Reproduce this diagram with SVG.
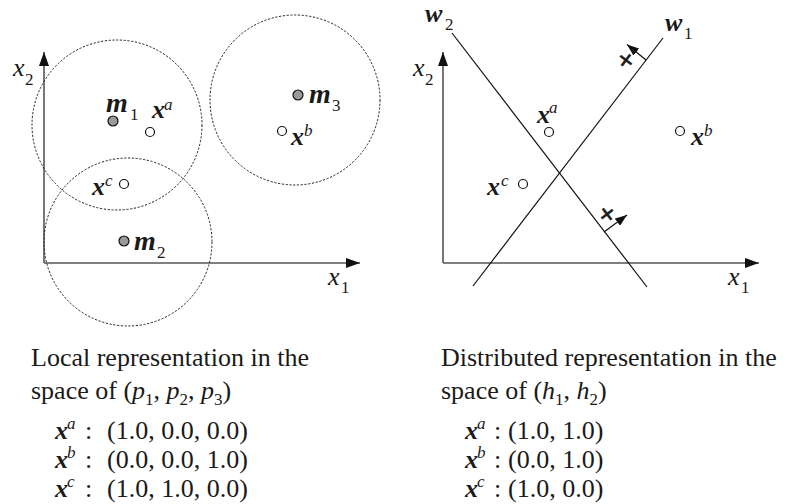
<svg xmlns="http://www.w3.org/2000/svg" width="789" height="504" viewBox="0 0 789 504">
<style>
text{font-family:"Liberation Serif","Times New Roman",serif;fill:#1a1a1a;font-size:26px}
.bi{font-weight:bold;font-style:italic}
.m{font-size:28px}
.it{font-style:italic}
.sm{font-size:17px}
.axis{stroke:#555;stroke-width:1.6;fill:none}
.dash{fill:none;stroke:#222;stroke-width:1;stroke-dasharray:2.2 1.6}
.ln{stroke:#111;stroke-width:1.2;fill:none}
.proto{fill:#999;stroke:#111;stroke-width:1.2}
.pt{fill:#fff;stroke:#111;stroke-width:1.2}
.plus{font-family:"Liberation Sans",Arial,sans-serif;font-size:28px;text-anchor:middle;stroke:#1a1a1a;stroke-width:0.5}
</style>
<defs>
<marker id="ah" markerUnits="userSpaceOnUse" markerWidth="14" markerHeight="10" refX="14" refY="5" orient="auto">
<path d="M0,0 L14,5 L0,10 z" fill="#111"/>
</marker>
<marker id="ahs" markerUnits="userSpaceOnUse" markerWidth="12" markerHeight="9" refX="12" refY="4.5" orient="auto">
<path d="M0,0 L12,4.5 L0,9 z" fill="#111"/>
</marker>
</defs>

<g id="connectors">
<line class="axis" x1="44" y1="263" x2="44" y2="52" marker-end="url(#ah)"/>
<line class="axis" x1="44" y1="263" x2="360" y2="263" marker-end="url(#ah)"/>
<line class="axis" x1="443" y1="263" x2="443" y2="52" marker-end="url(#ah)"/>
<line class="axis" x1="443" y1="263" x2="759" y2="263" marker-end="url(#ah)"/>
<line id="w2-line" class="ln" x1="452" y1="33" x2="647" y2="287"/>
<line id="w1-line" class="ln" x1="473" y1="286" x2="663" y2="38"/>
<line class="ln" x1="646" y1="60" x2="627" y2="44.5" marker-end="url(#ahs)"/>
<line class="ln" x1="604" y1="232" x2="627" y2="215" marker-end="url(#ahs)"/>
</g>

<g id="circles">
<circle id="c1" class="dash" cx="117" cy="125" r="85"/>
<circle id="c2" class="dash" cx="128" cy="242" r="84"/>
<circle id="c3" class="dash" cx="295" cy="100" r="85"/>
</g>

<g id="left-axis-labels">
<text x="13" y="76" class="it">x<tspan class="sm" font-style="normal" x="25" y="85">2</tspan></text>
<text x="328" y="285" class="it">x<tspan class="sm" font-style="normal" x="341" y="293">1</tspan></text>
</g>

<g id="m1"><circle class="proto" cx="113" cy="121" r="5"/><text x="106" y="112" class="bi m">m</text><text x="130" y="120" class="sm">1</text></g>
<g id="m2"><circle class="proto" cx="124" cy="241" r="5"/><text x="134" y="250" class="bi m">m</text><text x="157" y="258" class="sm">2</text></g>
<g id="m3"><circle class="proto" cx="298" cy="95" r="5"/><text x="309" y="103" class="bi m">m</text><text x="332" y="111" class="sm">3</text></g>
<g id="xa-left"><circle class="pt" cx="150" cy="132" r="4.5"/><text x="152" y="118" class="bi">x</text><text x="164" y="110" class="sm it">a</text></g>
<g id="xb-left"><circle class="pt" cx="282" cy="131" r="4.5"/><text x="291" y="145" class="bi">x</text><text x="304" y="136" class="sm it">b</text></g>
<g id="xc-left"><circle class="pt" cx="124" cy="184" r="4.5"/><text x="92" y="195" class="bi">x</text><text x="105" y="186" class="sm it">c</text></g>

<g id="right-axis-labels">
<text x="413" y="76" class="it">x<tspan class="sm" font-style="normal" x="425" y="85">2</tspan></text>
<text x="728" y="285" class="it">x<tspan class="sm" font-style="normal" x="741" y="293">1</tspan></text>
</g>

<g id="w2"><text x="425" y="22" class="bi">w</text><text x="445" y="30" class="sm">2</text></g>
<g id="w1"><text x="665" y="31" class="bi">w</text><text x="684" y="39" class="sm">1</text></g>
<g id="plus1"><text class="plus" transform="translate(626,60) rotate(37.5)" x="0" y="9.5">+</text></g>
<g id="plus2"><text class="plus" transform="translate(607,214) rotate(-37.5)" x="0" y="9.5">+</text></g>

<g id="xa-right"><circle class="pt" cx="549" cy="132" r="4.5"/><text x="537" y="123" class="bi">x</text><text x="549" y="113" class="sm it">a</text></g>
<g id="xb-right"><circle class="pt" cx="680" cy="131" r="4.5"/><text x="691" y="145" class="bi">x</text><text x="704" y="136" class="sm it">b</text></g>
<g id="xc-right"><circle class="pt" cx="523" cy="184" r="4.5"/><text x="487" y="195" class="bi">x</text><text x="501" y="186" class="sm it">c</text></g>

<g id="caption-left">
<text x="31" y="366">Local representation in the</text>
<text x="31" y="399">space of (<tspan class="it">p</tspan><tspan class="sm" dy="6">1</tspan><tspan dy="-6">, </tspan><tspan class="it">p</tspan><tspan class="sm" dy="6">2</tspan><tspan dy="-6">, </tspan><tspan class="it">p</tspan><tspan class="sm" dy="6">3</tspan><tspan dy="-6">)</tspan></text>
<text x="55" y="439"><tspan class="bi">x</tspan><tspan class="sm it" x="67" y="429">a</tspan><tspan x="85" y="439">:</tspan><tspan x="107" y="439">(1.0, 0.0, 0.0)</tspan></text>
<text x="55" y="468"><tspan class="bi">x</tspan><tspan class="sm it" x="67" y="458">b</tspan><tspan x="85" y="468">:</tspan><tspan x="107" y="468">(0.0, 0.0, 1.0)</tspan></text>
<text x="55" y="497"><tspan class="bi">x</tspan><tspan class="sm it" x="67" y="487">c</tspan><tspan x="85" y="497">:</tspan><tspan x="107" y="497">(1.0, 1.0, 0.0)</tspan></text>
</g>

<g id="caption-right">
<text x="441" y="366">Distributed representation in the</text>
<text x="441" y="399">space of (<tspan class="it">h</tspan><tspan class="sm" dy="6">1</tspan><tspan dy="-6">, </tspan><tspan class="it">h</tspan><tspan class="sm" dy="6">2</tspan><tspan dy="-6">)</tspan></text>
<text x="465" y="439"><tspan class="bi">x</tspan><tspan class="sm it" x="477" y="429">a</tspan><tspan x="494" y="439">:</tspan><tspan x="508" y="439">(1.0, 1.0)</tspan></text>
<text x="465" y="468"><tspan class="bi">x</tspan><tspan class="sm it" x="477" y="458">b</tspan><tspan x="494" y="468">:</tspan><tspan x="508" y="468">(0.0, 1.0)</tspan></text>
<text x="465" y="497"><tspan class="bi">x</tspan><tspan class="sm it" x="477" y="487">c</tspan><tspan x="494" y="497">:</tspan><tspan x="508" y="497">(1.0, 0.0)</tspan></text>
</g>
</svg>
